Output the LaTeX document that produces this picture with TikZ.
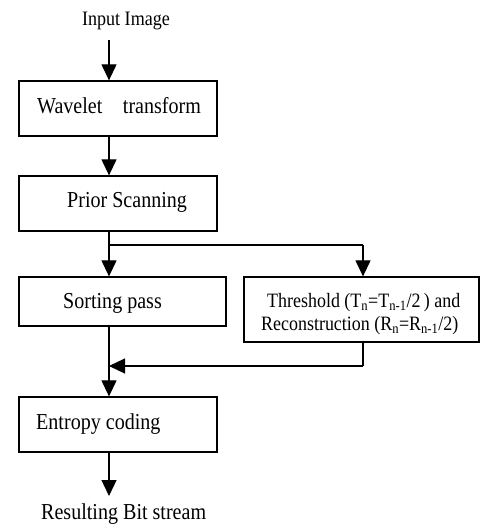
\documentclass[tikz,border=0pt]{standalone}
\usepackage{fontspec}
\setmainfont[FakeStretch=0.88]{Liberation Serif}
\usetikzlibrary{arrows.meta}
\begin{document}
\begin{tikzpicture}[x=1pt,y=-1pt,
  box/.style={draw,line width=1.3pt,inner sep=0pt},
  txt/.style={inner sep=0pt,anchor=base west,font=\fontsize{22.8}{24}\selectfont},
  lbl/.style={inner sep=0pt,anchor=base,font=\fontsize{20.5}{22}\selectfont},
  arr/.style={line width=1.2pt,-{Triangle[length=16pt,width=15pt]}},
  ln/.style={line width=1.2pt}]
\useasboundingbox (0,0) rectangle (482,527);
% boxes
\node[box,minimum width=198pt,minimum height=55pt] (wt) at (118,108.5) {};
\node[box,minimum width=198pt,minimum height=55pt] (ps) at (118,203.5) {};
\node[box,minimum width=207pt,minimum height=49pt] (sp) at (122.5,301.5) {};
\node[box,minimum width=235pt,minimum height=65pt] (th) at (361.5,309.5) {};
\node[box,minimum width=198pt,minimum height=55pt] (ec) at (118,424.5) {};
% texts
\node[lbl] (in) at (126,26) {Input Image};
\node[txt] (wtt) at (37,113) {Wavelet\hspace{0.9em}transform};
\node[txt] (pst) at (67,207) {Prior Scanning};
\node[txt] (spt) at (63,308) {Sorting pass};
\node[txt,font=\fontsize{20.4}{22}\selectfont] (tht1) at (267,307) {Threshold (T\textsubscript{n}=T\textsubscript{n-1}/2\,) and};
\node[txt,font=\fontsize{20.4}{22}\selectfont] (tht2) at (261,330) {Reconstruction (R\textsubscript{n}=R\textsubscript{n-1}/2)};
\node[txt] (ect) at (36,429) {Entropy coding};
\node[txt] (out) at (41,519) {Resulting Bit stream};
% coordinates
\coordinate (a0) at (109,40);
\coordinate (split) at (109,245);
\coordinate (splitR) at (363,245);
\coordinate (fb) at (363,366);
\coordinate (join) at (109,366);
\coordinate (end) at (109,496);
% connectors
\draw[arr] (a0) -- (a0 |- wt.north);
\draw[arr] (wt.south -| a0) -- (ps.north -| a0);
\draw[ln] (ps.south -| a0) -- (split);
\draw[arr] (split) -- (sp.north -| a0);
\draw[ln] (split) -- (splitR);
\draw[arr] (splitR) -- (th.north -| splitR);
\draw[ln] (th.south -| fb) -- (fb);
\draw[arr] (fb) -- (join);
\draw[arr] (sp.south -| a0) -- (ec.north -| a0);
\draw[arr] (ec.south -| a0) -- (end);
\end{tikzpicture}
\end{document}
